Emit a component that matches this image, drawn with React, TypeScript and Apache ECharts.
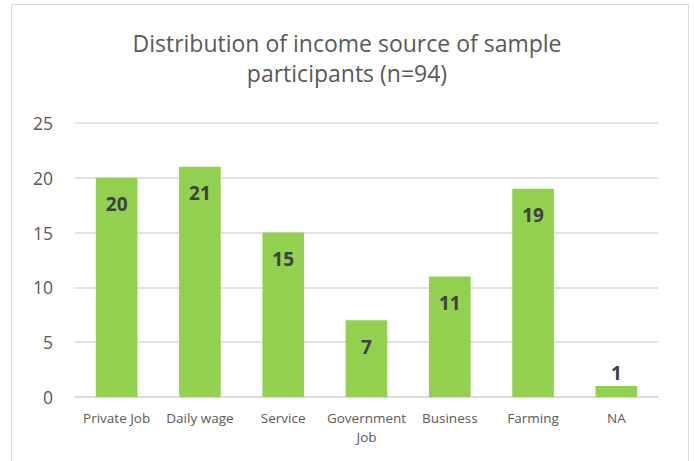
import React, { useEffect, useRef } from "react";
import * as echarts from "echarts";

const categories = ["Private Job", "Daily wage", "Service", "Government\nJob", "Business", "Farming", "NA"];
const values = [20, 21, 15, 7, 11, 19, 1];
const titleText = "Distribution of income source of sample\nparticipants (n=94)";

export default function App() {
  const ref = useRef<HTMLDivElement>(null);
  useEffect(() => {
    const chart = echarts.init(ref.current!, null, { renderer: "svg" });
    const font = "'Open Sans', 'Noto Sans', sans-serif";
    chart.setOption({
      animation: false,
      backgroundColor: "#ffffff",
      title: {
        text: titleText,
        left: "center",
        top: 23,
        textStyle: { fontFamily: font, fontSize: 23, fontWeight: "normal", color: "#595959", lineHeight: 30 },
      },
      graphic: [
        {
          type: "rect",
          shape: { x: 11.5, y: 4.5, width: 677, height: 470 },
          style: { fill: "none", stroke: "#d9d9d9", lineWidth: 1 },
        },
      ],
      grid: { left: 75, right: 36, top: 123, bottom: 64, containLabel: false },
      xAxis: {
        type: "category",
        data: categories,
        axisLine: { lineStyle: { color: "#d9d9d9", width: 1.5 } },
        axisTick: { show: false },
        axisLabel: { fontFamily: font, fontSize: 13.5, color: "#595959", margin: 11, lineHeight: 19, interval: 0 },
      },
      yAxis: {
        type: "value",
        min: 0,
        max: 25,
        interval: 5,
        axisLine: { show: false },
        axisTick: { show: false },
        splitLine: { lineStyle: { color: "#d9d9d9", width: 1.5 } },
        axisLabel: { fontFamily: font, fontSize: 17.5, color: "#595959", margin: 22 },
      },
      series: [
        {
          type: "bar",
          data: values.map((v) => ({
            value: v,
            label: v < 3 ? { position: "top", distance: 4 } : undefined,
          })),
          barWidth: "50%",
          itemStyle: { color: "#92d050" },
          label: {
            show: true,
            position: "insideTop",
            distance: 17,
            fontFamily: font,
            fontSize: 19,
            fontWeight: "bold",
            color: "#404040",
          },
        },
      ],
    });
    return () => chart.dispose();
  }, []);
  return <div ref={ref} style={{ position: "fixed", left: 0, top: 0, width: 694, height: 461 }} />;
}
